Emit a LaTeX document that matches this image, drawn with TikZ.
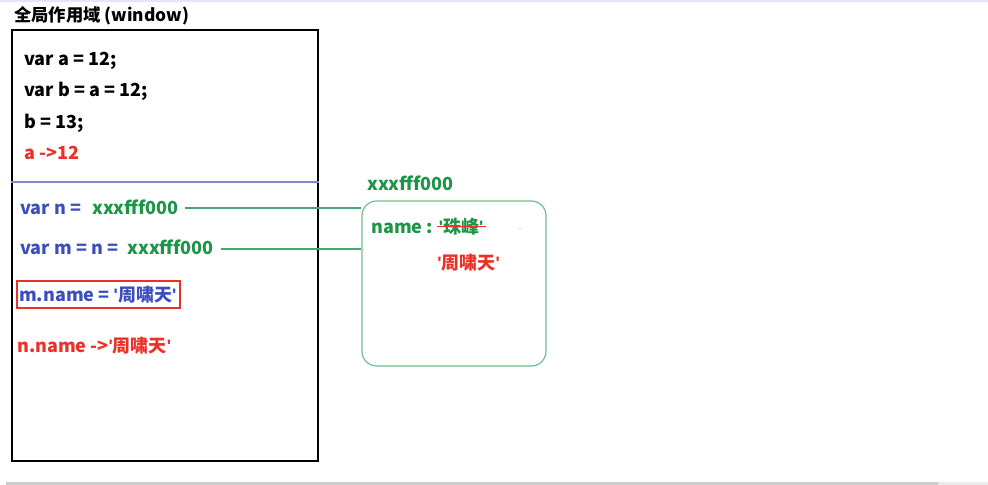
\documentclass[tikz,border=0pt]{standalone}
\usepackage{fontspec}
\setmainfont{Noto Sans CJK SC}[Ligatures=ResetAll]
\newfontfamily\latf{Liberation Sans}[Ligatures=ResetAll]
\newcommand\sq{{\latf\textquotesingle}}
\usetikzlibrary{fit}
\definecolor{cblue}{RGB}{58,78,188}
\definecolor{cgreen}{RGB}{28,150,70}
\definecolor{cline}{RGB}{70,165,115}
\definecolor{cbox}{RGB}{110,190,140}
\definecolor{cred}{RGB}{236,48,40}
\definecolor{csep}{RGB}{130,135,205}
\tikzset{
  code/.style={anchor=base west, inner sep=0pt, font=\fontsize{13.5pt}{16pt}\selectfont\bfseries},
  title/.style={anchor=base west, inner sep=0pt, font=\fontsize{13pt}{16pt}\selectfont\bfseries},
  link/.style={cline, line width=0.8pt},
}
\begin{document}
\begin{tikzpicture}[x=0.75pt,y=-0.75pt]
\useasboundingbox (0,0) rectangle (988,485);
% window chrome
\fill[black!20!blue!10!white] (0,0) rectangle (988,2.5);
\fill[black!20] (6,482) rectangle (938,485);
\fill[black!8] (938,482) rectangle (988,485);
% title
\node[title] (title) at (14,22) {全局作用域 (window)};
% scope box
\node[draw=black, line width=0.8pt, inner sep=0pt, fit={(12,30) (318,461)}] (scope) {};
\draw[csep, line width=0.8pt] (scope.west |- 0,182) coordinate (sepL) -- (scope.east |- 0,182) coordinate (sepR);
% code lines
\node[code] (l1) at (24,65) {var a = 12;};
\node[code] (l2) at (24,97) {var b = a = 12;};
\node[code] (l3) at (24,128) {b = 13;};
\node[code, text=cred] (l4) at (24,159) {a ->12};
\node[code, text=cblue] (n1) at (20,214) {var n = };
\node[code, text=cgreen] (nv) at (92,214) {xxxfff000};
\node[code, text=cblue] (m1) at (20,254) {var m = n = };
\node[code, text=cgreen, anchor=base east] (mv) at (214,254) {xxxfff000};
\node[draw=cred, line width=0.8pt, inner sep=0pt, fit={(17,281) (180,308)}] (mnbox) {};
\node[code, text=cblue] (mn) at (19,301) {m.name = \sq 周啸天\sq};
\node[code, text=cred] (nn) at (17,352) {n.name ->\sq 周啸天\sq};
% heap object
\node[draw=cbox, line width=0.9pt, rounded corners=11pt, inner sep=0pt, fit={(362,201) (546,366)}] (heap) {};
\node[code, text=cgreen] (addr) at (367,190) {xxxfff000};
\node[code, text=cgreen] (key) at (371,233) {name :};
\node[code, text=cgreen, anchor=base west] (old) at ([xshift=4pt]key.base east) {\sq 珠峰\sq};
\draw[cred, line width=0.8pt] ([xshift=-1pt]old.west |- 0,226.5) -- ([xshift=2pt]old.east |- 0,226.5);
\node[code, text=cred] (new) at (437,269) {\sq 周啸天\sq};
\fill[black!40] (520,229) circle (0.7);
% connectors
\draw[link] ([xshift=5pt]nv.east |- 0,208) -- (heap.west |- 0,208);
\draw[link] ([xshift=5pt]mv.east |- 0,249) -- (heap.west |- 0,249);
\end{tikzpicture}
\end{document}
